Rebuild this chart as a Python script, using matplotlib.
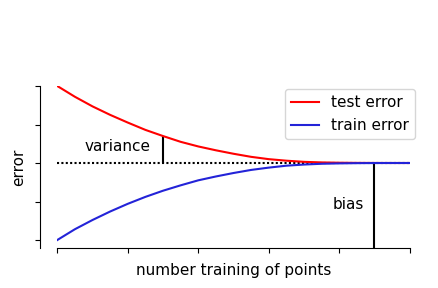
import numpy as np
import matplotlib
matplotlib.use('Agg')
import matplotlib.pyplot as plt

# values
n_points = [0, 0.25, 0.5, 0.75, 1.0, 1.25, 1.5, 1.75, 2.0, 2.25, 2.5,
            2.75, 3.0, 3.25, 3.5, 3.75, 4.0, 4.25, 4.5, 4.75, 5.0]
test_err = [2.00, 1.72, 1.47, 1.25, 1.05, 0.86, 0.70, 0.55, 0.43, 0.33, 0.24,
            0.16, 0.10, 0.06, 0.03, 0.015, 0.007, 0.003, 0.001, 0.0, 0.0]
train_err = [-2.00, -1.72, -1.48, -1.26, -1.06, -0.88, -0.72, -0.58, -0.45, -0.35, -0.26,
             -0.18, -0.12, -0.07, -0.04, -0.02, -0.01, -0.004, -0.001, 0.0, 0.0]
bias_level = 0.0
variance_x = 1.5
bias_x = 4.5

plt.rcParams['font.size'] = 11
fig = plt.figure(figsize=(4.38, 2.88), dpi=100)
ax = fig.add_axes([57.3/438, 1-247.7/288, (409.7-57.3)/438, (247.7-86)/288])

ax.plot([n_points[0], n_points[-1]], [bias_level, bias_level], color='k',
        lw=1.5, linestyle=(0, (1, 1.1)), zorder=1)
ax.plot(n_points, test_err, color='#ff0000', lw=1.5, label='test error', zorder=3)
ax.plot(n_points, train_err, color='#2323d8', lw=1.5, label='train error', zorder=3)

i = n_points.index(variance_x)
ax.vlines(variance_x, bias_level, test_err[i], color='k', lw=1.5)
ax.vlines(bias_x, -2.2, bias_level, color='k', lw=1.5)
ax.text(1.33, 0.42, 'variance', ha='right', va='center')
ax.text(4.35, -1.07, 'bias', ha='right', va='center')

ax.set_xlim(0, 5)
ax.set_ylim(-2.2, 2)
ax.set_xticks(range(6))
ax.set_yticks([-2, -1, 0, 1, 2])
ax.set_xticklabels([])
ax.set_yticklabels([])
ax.spines['top'].set_visible(False)
ax.spines['right'].set_visible(False)
ax.spines['left'].set_position(('outward', 12.7))
ax.set_xlabel('number training of points', labelpad=4)
ax.set_ylabel('error', labelpad=3)

fig.legend(loc='upper right', bbox_to_anchor=(415/438, 1-89.3/288), borderaxespad=0,
           handlelength=1.8)

fig.savefig('out.png', dpi=100)
